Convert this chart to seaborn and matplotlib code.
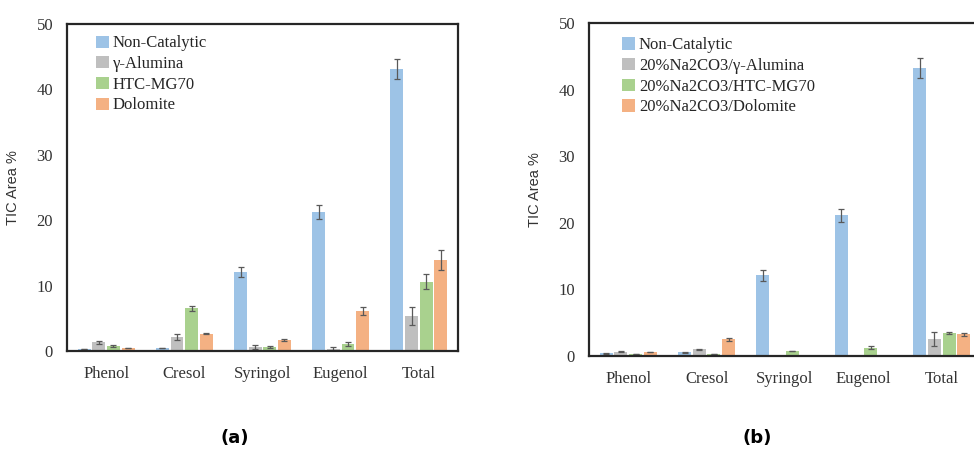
import matplotlib
matplotlib.use("Agg")
import matplotlib.pyplot as plt
import seaborn as sns
import numpy as np
import pandas as pd

compounds = ["Phenol", "Cresol", "Syringol", "Eugenol", "Total"]

# panel (a)
cat_a = ["Non-Catalytic", "\u03b3-Alumina", "HTC-MG70", "Dolomite"]
val_a = [
    [0.3, 0.45, 12.1, 21.2, 43.1],
    [1.3, 2.15, 0.6, 0.35, 5.3],
    [0.8, 6.5, 0.6, 1.1, 10.6],
    [0.45, 2.65, 1.75, 6.1, 13.9],
]
err_a = [
    [0.05, 0.05, 0.8, 1.05, 1.5],
    [0.2, 0.4, 0.3, 0.3, 1.35],
    [0.15, 0.35, 0.15, 0.3, 1.1],
    [0.05, 0.05, 0.15, 0.65, 1.5],
]

# panel (b)
cat_b = ["Non-Catalytic", "20%Na2CO3/\u03b3-Alumina", "20%Na2CO3/HTC-MG70", "20%Na2CO3/Dolomite"]
val_b = [
    [0.4, 0.55, 12.1, 21.1, 43.2],
    [0.65, 1.0, 0.0, 0.1, 2.5],
    [0.3, 0.3, 0.75, 1.25, 3.4],
    [0.6, 2.5, 0.0, 0.0, 3.25],
]
err_b = [
    [0.05, 0.05, 0.8, 1.05, 1.5],
    [0.1, 0.1, np.nan, np.nan, 1.05],
    [0.05, 0.05, 0.05, 0.25, 0.15],
    [0.05, 0.2, np.nan, np.nan, 0.2],
]

colors = ["#9DC3E6", "#BFBFBF", "#A9D18E", "#F4B183"]

sns.set_style("white")
plt.rcParams["font.family"] = ["Liberation Serif", "DejaVu Serif"]


def draw(ax, cats, vals, errs, leg_xy):
    rows = []
    for c, v in zip(cats, vals):
        for comp, y in zip(compounds, v):
            rows.append({"compound": comp, "catalyst": c, "value": y})
    df = pd.DataFrame(rows)
    sns.barplot(data=df, x="compound", y="value", hue="catalyst",
                hue_order=cats, order=compounds, palette=colors,
                saturation=1, width=0.75, gap=0.12, errorbar=None,
                edgecolor="none", ax=ax)
    for cont, e in zip(ax.containers, errs):
        xs = [p.get_x() + p.get_width() / 2 for p in cont.patches]
        hs = [p.get_height() for p in cont.patches]
        ax.errorbar(xs, hs, yerr=e, fmt="none", ecolor="#595959",
                    elinewidth=0.9, capsize=2.5, capthick=0.9)
    ax.set_ylim(0, 50)
    ax.set_xlim(-0.5, 4.5)
    ax.set_yticks(range(0, 51, 10))
    ax.tick_params(axis="y", direction="in", length=4, width=1.2, pad=10,
                   labelsize=12, colors="#333333")
    ax.tick_params(axis="x", length=0, pad=11, labelsize=12, colors="#333333")
    ax.set_xlabel("")
    ax.set_ylabel("TIC Area %", family=["Liberation Sans"], fontsize=10.5,
                  color="#333333", labelpad=12)
    for s in ax.spines.values():
        s.set_linewidth(1.6)
        s.set_color("#262626")
    ax.legend(frameon=False, loc="upper left", bbox_to_anchor=leg_xy,
              borderaxespad=0, borderpad=0, handlelength=0.75,
              handleheight=0.75, handletextpad=0.25, labelspacing=0.28,
              fontsize=12)


fig = plt.figure(figsize=(9.74, 4.49), dpi=100)
ax1 = fig.add_axes([0.0688, 0.2183, 0.4014, 0.7283])
ax2 = fig.add_axes([0.6047, 0.2071, 0.4025, 0.7416])

draw(ax1, cat_a, val_a, err_a, (0.075, 0.965))
draw(ax2, cat_b, val_b, err_b, (0.085, 0.957))

fig.text(235 / 974, 1 - 438 / 449, "(a)", ha="center", va="center",
         fontsize=13, fontweight="bold", family=["DejaVu Sans"], color="black")
fig.text(757 / 974, 1 - 438 / 449, "(b)", ha="center", va="center",
         fontsize=13, fontweight="bold", family=["DejaVu Sans"], color="black")

fig.savefig("out.png", dpi=100)
